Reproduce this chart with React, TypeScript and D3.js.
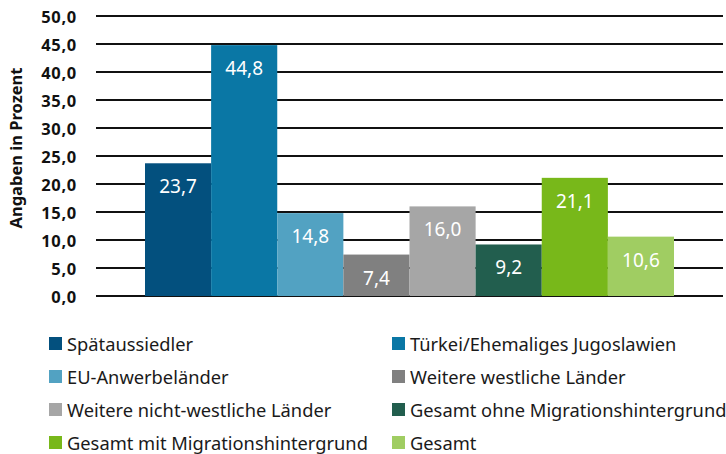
import React from "react";
import * as d3 from "d3";

const categories = [
  "Spätaussiedler",
  "Türkei/Ehemaliges Jugoslawien",
  "EU-Anwerbeländer",
  "Weitere westliche Länder",
  "Weitere nicht-westliche Länder",
  "Gesamt ohne Migrationshintergrund",
  "Gesamt mit Migrationshintergrund",
  "Gesamt",
];
const values = [23.7, 44.8, 14.8, 7.4, 16.0, 9.2, 21.1, 10.6];
const colors = [
  "#03507e",
  "#0a77a5",
  "#52a2c2",
  "#808080",
  "#a6a6a6",
  "#225e4e",
  "#78b81a",
  "#a0cd62",
];
const yTicks = [0, 5, 10, 15, 20, 25, 30, 35, 40, 45, 50];
const yTitle = "Angaben in Prozent";

const W = 726;
const H = 454;
const FONT = "'Noto Sans', sans-serif";

const fmt = (v: number) => v.toFixed(1).replace(".", ",");

export default function App() {
  const y = d3.scaleLinear().domain([0, 50]).range([296, 16]);
  const x = d3.scaleBand<number>().domain(d3.range(values.length)).range([145, 674]).paddingInner(0).paddingOuter(0);
  const gridX0 = 96;
  const gridX1 = 723;

  const legendCols = [49, 392];
  const legendRows = [343.5, 376.5, 409.5, 442.5];

  return (
    <svg
      width={W}
      height={H}
      style={{ position: "absolute", left: 0, top: 0, background: "#fff" }}
      fontFamily={FONT}
    >
      {yTicks.map((t) => (
        <g key={t}>
          <line x1={gridX0} x2={gridX1} y1={y(t)} y2={y(t)} stroke="#111" strokeWidth={2} />
          <text
            x={77}
            y={y(t)}
            textAnchor="end"
            dominantBaseline="central"
            fontWeight="bold"
            fontSize={16.5}
            letterSpacing={0.7}
            fill="#111"
          >
            {fmt(t)}
          </text>
        </g>
      ))}
      <text
        transform={`translate(22,148) rotate(-90)`}
        textAnchor="middle"
        fontWeight="bold"
        fontSize={16.5}
        fill="#111"
      >
        {yTitle}
      </text>
      {values.map((v, i) => (
        <g key={i}>
          <rect
            x={x(i)!}
            y={y(v)}
            width={x.bandwidth()}
            height={y(0) - y(v)}
            fill={colors[i]}
          />
          <text
            x={x(i)! + x.bandwidth() / 2}
            y={y(v) + 30}
            textAnchor="middle"
            fontSize={19}
            fill="#fff"
          >
            {fmt(v)}
          </text>
        </g>
      ))}
      {categories.map((c, i) => {
        const cx = legendCols[i % 2];
        const cy = legendRows[Math.floor(i / 2)];
        return (
          <g key={c}>
            <rect x={cx} y={cy - 6.5} width={13} height={13} fill={colors[i]} />
            <text x={cx + 18} y={cy} dominantBaseline="central" fontSize={18.3} fill="#1a1a1a">
              {c}
            </text>
          </g>
        );
      })}
    </svg>
  );
}
